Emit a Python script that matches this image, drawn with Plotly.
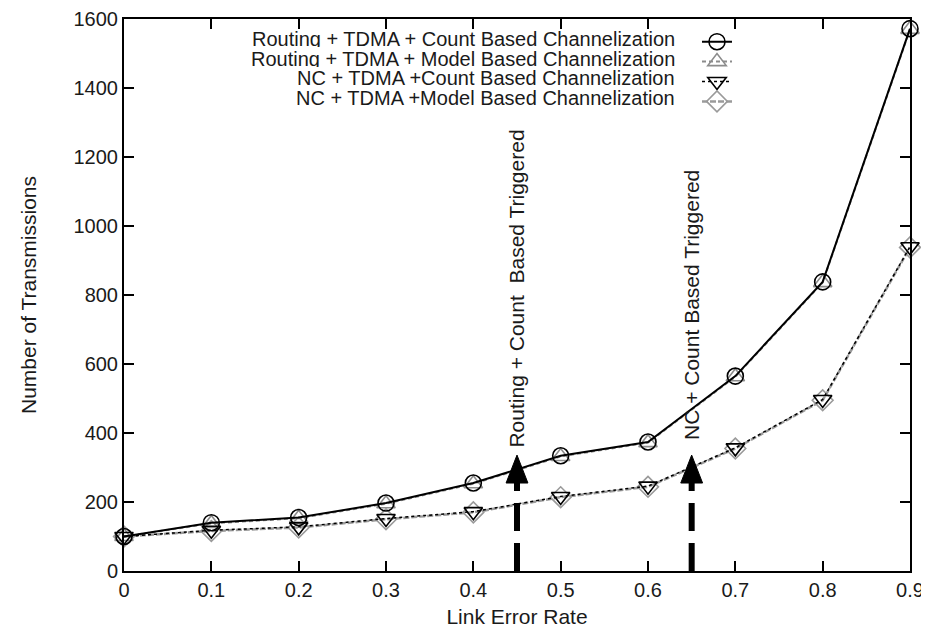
import plotly.graph_objects as go

# ---- data ----
link_error_rate = [0.0, 0.1, 0.2, 0.3, 0.4, 0.5, 0.6, 0.7, 0.8, 0.9]
routing_count = [100, 140, 155, 197, 255, 334, 374, 565, 838, 1572]
routing_model = [100, 138, 153, 195, 253, 332, 372, 563, 836, 1570]
nc_count = [100, 118, 128, 152, 172, 216, 246, 357, 497, 940]
nc_model = [100, 116, 126, 150, 170, 214, 244, 355, 495, 938]

series_names = [
    "Routing + TDMA + Count Based Channelization",
    "Routing + TDMA + Model Based Channelization",
    "NC + TDMA +Count Based Channelization",
    "NC + TDMA +Model Based Channelization",
]

trigger_x = [0.45, 0.65]
trigger_labels = ["Routing + Count\u00a0\u00a0Based Triggered", "NC + Count Based Triggered"]
trigger_level = 336      # arrow tip
trigger_head_base = 255  # bottom of arrow head
trigger_label_base = [352, 373]

x_ticks = [0.0, 0.1, 0.2, 0.3, 0.4, 0.5, 0.6, 0.7, 0.8, 0.9]
x_tick_text = ["0", "0.1", "0.2", "0.3", "0.4", "0.5", "0.6", "0.7", "0.8", "0.9"]
y_ticks = [0, 200, 400, 600, 800, 1000, 1200, 1400, 1600]

FONT = "Liberation Sans, Arial, Helvetica, sans-serif"
TXT = "#1a1a1a"

styles = [
    dict(color="#000000", width=2, dash="solid", symbol="circle-open", mcolor="#000000"),
    dict(color="#8c8c8c", width=2, dash="4px,3px", symbol="triangle-up-open", mcolor="#555555"),
    dict(color="#000000", width=1.5, dash="3px,3px", symbol="triangle-down-open", mcolor="#222222"),
    dict(color="#9a9a9a", width=2.5, dash="6px,2px", symbol="diamond-open", mcolor="#444444"),
]
values = [routing_count, routing_model, nc_count, nc_model]

fig = go.Figure()

# draw order: gray model lines under black count lines
for idx in [3, 1, 2, 0]:
    s = styles[idx]
    fig.add_trace(go.Scatter(
        x=link_error_rate, y=values[idx], name=series_names[idx],
        mode="lines+markers", showlegend=False, cliponaxis=False,
        line=dict(color=s["color"], width=s["width"], dash=s["dash"]),
        marker=dict(symbol=s["symbol"], size=16,
                    line=dict(color=s["mcolor"], width=1.6)),
    ))

# legend samples (text drawn as right-aligned annotations)
for idx in range(4):
    s = styles[idx]
    fig.add_trace(go.Scatter(
        x=[None], y=[None], name=" ", mode="lines+markers", showlegend=True,
        line=dict(color=s["color"], width=s["width"], dash=s["dash"]),
        marker=dict(symbol=s["symbol"], size=16,
                    line=dict(color=s["mcolor"], width=1.6)),
    ))

legend_rows = [0.965, 0.929, 0.894, 0.858]
annotations = []
for name, yy in zip(series_names, legend_rows):
    annotations.append(dict(
        text=name, xref="paper", yref="paper", x=0.702, y=yy,
        xanchor="right", yanchor="middle", showarrow=False,
        height=17, valign="middle", borderpad=0,
        font=dict(family=FONT, size=20, color=TXT),
    ))

shapes = []
for tx, lab, lb in zip(trigger_x, trigger_labels, trigger_label_base):
    # dashed thick shaft
    shapes.append(dict(
        type="line", xref="x", yref="y", x0=tx, y0=0, x1=tx, y1=trigger_head_base,
        line=dict(color="black", width=6, dash="28px,12px"),
    ))
    # filled arrow head
    hw = 0.0125
    shapes.append(dict(
        type="path", xref="x", yref="y",
        path=f"M {tx - hw} {trigger_head_base} L {tx + hw} {trigger_head_base} L {tx} {trigger_level} Z",
        fillcolor="black", line=dict(color="black", width=1),
    ))
    annotations.append(dict(
        text=lab, xref="x", yref="y", x=tx, y=lb, textangle=-90,
        xanchor="center", yanchor="bottom", showarrow=False,
        font=dict(family=FONT, size=21, color=TXT),
    ))

# the page body adds an 8px margin, so the figure is sized to fit the window
fig.update_layout(
    width=921, height=620,
    margin=dict(l=116, r=19, t=11, b=57, autoexpand=False),
    paper_bgcolor="white", plot_bgcolor="white",
    font=dict(family=FONT, size=20, color=TXT),
    showlegend=True,
    legend=dict(x=0.729, y=0.986, xanchor="left", yanchor="top",
                bgcolor="rgba(0,0,0,0)", borderwidth=0,
                font=dict(size=13), tracegroupgap=0, itemwidth=30),
    annotations=annotations,
    shapes=shapes,
    xaxis=dict(
        range=[0, 0.9], tickvals=x_ticks, ticktext=x_tick_text,
        automargin=False,
        showgrid=False, zeroline=False, showline=True, mirror="ticks",
        linecolor="black", linewidth=2, ticks="inside", ticklen=10,
        tickwidth=2, tickcolor="black",
        title=dict(text="Link Error Rate", standoff=11,
                   font=dict(family=FONT, size=21, color=TXT)),
        tickfont=dict(family=FONT, size=20, color=TXT),
    ),
    yaxis=dict(
        range=[0, 1600], tickvals=y_ticks,
        automargin=False,
        showgrid=False, zeroline=False, showline=True, mirror="ticks",
        linecolor="black", linewidth=2, ticks="inside", ticklen=10,
        tickwidth=2, tickcolor="black",
        title=dict(text="Number of Transmissions", standoff=31,
                   font=dict(family=FONT, size=21, color=TXT)),
        tickfont=dict(family=FONT, size=20, color=TXT),
    ),
)

fig.write_html("out.html")
